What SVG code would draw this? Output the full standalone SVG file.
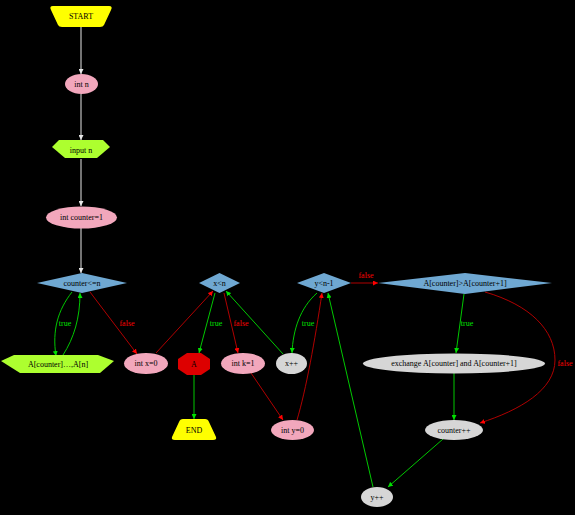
<svg xmlns="http://www.w3.org/2000/svg" width="575" height="515" viewBox="0 0 575 515">
<defs>
<style>
text{font-family:"Liberation Serif","Times New Roman",serif;font-size:8px;text-anchor:middle;dominant-baseline:central;fill:#000}
.pink{fill:#f2a7bc}
.grey{fill:#d6d6d6}
.blue{fill:#6fa8d2}
.lime{fill:#adff2f}
.yel{fill:#ffff00}
.redn{fill:#dd0000}
.ew{stroke:#e8e8e8;fill:none;stroke-width:1}
.eg{stroke:#00c800;fill:none;stroke-width:1}
.er{stroke:#b00000;fill:none;stroke-width:1}
.lg{fill:#00e000}
.lr{fill:#ff0000}
</style>
<marker id="aw" viewBox="0 0 10 10" refX="10" refY="5" markerWidth="5" markerHeight="5" orient="auto" markerUnits="userSpaceOnUse"><path d="M0,0L10,5L0,10z" fill="#e8e8e8"/></marker>
<marker id="ag" viewBox="0 0 10 10" refX="10" refY="5" markerWidth="5" markerHeight="5" orient="auto" markerUnits="userSpaceOnUse"><path d="M0,0L10,5L0,10z" fill="#00e000"/></marker>
<marker id="ar" viewBox="0 0 10 10" refX="10" refY="5" markerWidth="5" markerHeight="5" orient="auto" markerUnits="userSpaceOnUse"><path d="M0,0L10,5L0,10z" fill="#ff0000"/></marker>
</defs>
<rect width="575" height="515" fill="#000"/>
<g id="connectors">
<path class="ew" d="M81,27L81,74" marker-end="url(#aw)"/>
<path class="ew" d="M81,94L81,140" marker-end="url(#aw)"/>
<path class="ew" d="M81,159L81,206" marker-end="url(#aw)"/>
<path class="ew" d="M81,228L81,273" marker-end="url(#aw)"/>
<path class="eg" d="M72,292C58,310 52,330 56,356" marker-end="url(#ag)"/>
<path class="eg" d="M63,355C74,338 80,318 80,293" marker-end="url(#ag)"/>
<text class="lg" x="65" y="323">true</text>
<path class="er" d="M90,292L137,354" marker-end="url(#ar)"/>
<text class="lr" x="127" y="323">false</text>
<path class="er" d="M156,353L213,291" marker-end="url(#ar)"/>
<path class="eg" d="M215,293L199,353" marker-end="url(#ag)"/>
<text class="lg" x="216" y="323">true</text>
<path class="eg" d="M194,375L194,419" marker-end="url(#ag)"/>
<path class="er" d="M224,293L238,353" marker-end="url(#ar)"/>
<text class="lr" x="241" y="323">false</text>
<path class="er" d="M251,373L283,420" marker-end="url(#ar)"/>
<path class="eg" d="M283,354L226,291" marker-end="url(#ag)"/>
<path class="er" d="M297,420C306,390 315,340 322,293" marker-end="url(#ar)"/>
<path class="eg" d="M317,293C300,308 293,330 292,353" marker-end="url(#ag)"/>
<text class="lg" x="308" y="323">true</text>
<path class="er" d="M351,283L378,283" marker-end="url(#ar)"/>
<text class="lr" x="366" y="275">false</text>
<path class="eg" d="M464,294L456,353" marker-end="url(#ag)"/>
<text class="lg" x="467" y="323">true</text>
<path class="er" d="M485,292C530,305 555,330 555,360C555,390 520,410 480,423" marker-end="url(#ar)"/>
<text class="lr" x="565" y="363">false</text>
<path class="eg" d="M454,373L454,420" marker-end="url(#ag)"/>
<path class="eg" d="M443,439L388,487" marker-end="url(#ag)"/>
<path class="eg" d="M373,487L328,293" marker-end="url(#ag)"/>
</g>
<g id="start"><path class="yel" d="M53,6L109,6Q113,6 111,10L104,25Q103,27 100,27L62,27Q59,27 58,25L51,10Q49,6 53,6z"/><text x="81" y="16">START</text></g>
<g id="int_n"><ellipse class="pink" cx="81.5" cy="84" rx="16.5" ry="10"/><text x="81.5" y="84">int n</text></g>
<g id="input_n"><polygon class="lime" points="59,140 103,140 110,147 97,158 65,158 52,147"/><text x="81" y="150">input n</text></g>
<g id="int_counter"><ellipse class="pink" cx="81.5" cy="217.5" rx="35.5" ry="11"/><text x="81.5" y="217.5">int counter=1</text></g>
<g id="counter_le_n"><polygon class="blue" points="37,283 82,273 127,283 82,293"/><text x="82" y="283">counter&lt;=n</text></g>
<g id="a_counter_n"><polygon class="lime" points="14,355 98,355 114,361 100,373 20,373 1,361"/><text x="58" y="364">A[counter]…,A[n]</text></g>
<g id="int_x"><ellipse class="pink" cx="146" cy="363.5" rx="22" ry="10.5"/><text x="146" y="363.5">int x=0</text></g>
<g id="x_lt_n"><polygon class="blue" points="199,283 219.5,273 240,283 219.5,293"/><text x="219.5" y="283">x&lt;n</text></g>
<g id="out"><polygon class="redn" points="187,353 201,353 210,359 210,369 201,375 187,375 178,369 178,359"/><text x="194" y="364">A</text></g>
<g id="end"><path class="yel" d="M183,419L205,419Q208,419 209,422L216,437Q217,440 213,440L175,440Q171,440 172,437L179,422Q180,419 183,419z"/><text x="194" y="430">END</text></g>
<g id="int_k"><ellipse class="pink" cx="243" cy="363.5" rx="22" ry="10.5"/><text x="243" y="363.5">int k=1</text></g>
<g id="x_inc"><ellipse class="grey" cx="291.5" cy="363.5" rx="15.5" ry="10.5"/><text x="291.5" y="363.5">x++</text></g>
<g id="int_y"><ellipse class="pink" cx="292.5" cy="430" rx="21.5" ry="10"/><text x="292.5" y="430">int y=0</text></g>
<g id="y_lt"><polygon class="blue" points="297,283 324,273 351,283 324,293"/><text x="324" y="283">y&lt;n-1</text></g>
<g id="cmp"><polygon class="blue" points="378,283 465,273 552,283 465,294"/><text x="465" y="283">A[counter]&gt;A[counter+1]</text></g>
<g id="exchange"><ellipse class="grey" cx="454" cy="363.5" rx="91" ry="10"/><text x="454" y="363.5">exchange A[counter] and A[counter+1]</text></g>
<g id="counter_inc"><ellipse class="grey" cx="454" cy="430" rx="29" ry="10"/><text x="454" y="430">counter++</text></g>
<g id="y_inc"><ellipse class="grey" cx="377" cy="497" rx="16" ry="10"/><text x="377" y="497">y++</text></g>
</svg>
